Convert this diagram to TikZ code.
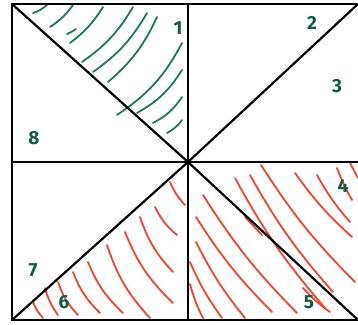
\documentclass[tikz,border=0pt]{standalone}
\usepackage{fontspec}
\setmainfont{Fira Sans}
\definecolor{hgreen}{HTML}{1C7A58}
\definecolor{lgreen}{HTML}{0F5E40}
\definecolor{hred}{HTML}{F0452F}
\begin{document}
\begin{tikzpicture}[x=1pt,y=-1pt,
  edge/.style={line width=2.2pt, black, line cap=round},
  ghatch/.style={draw=hgreen, line width=1.8pt, line cap=round},
  rhatch/.style={draw=hred, line width=1.8pt, line cap=round},
  num/.style={text=lgreen, font=\fontsize{19}{19}\selectfont\bfseries, inner sep=0pt}]
\fill[white] (0,0) rectangle (358,324);
\useasboundingbox (0,0) rectangle (358,324);

% green hatching, region 1
\draw[ghatch] (33,13) to[bend right=10] (47,5);
\draw[ghatch] (50,27) to[bend right=10] (73,5);
\draw[ghatch] (67,34) to[bend right=5] (76,29);
\draw[ghatch] (70,43) to[bend right=10] (103,7);
\draw[ghatch] (82,62) to[bend right=12] (133,7);
\draw[ghatch] (93,72) to[bend right=12] (147,13);
\draw[ghatch] (108,82) to[bend right=12] (157,17);
\draw[ghatch] (117,115) to[bend right=14] (182,43);
\draw[ghatch] (137,113) to[bend right=14] (182,70);
\draw[ghatch] (153,123) to[bend right=14] (182,97);
\draw[ghatch] (167,133) to[bend right=12] (182,120);

% red hatching, region 6
\draw[rhatch] (33,302) to[bend right=10] (43,318);
\draw[rhatch] (45,288) to[bend right=10] (58,315);
\draw[rhatch] (58,282) to[bend right=12] (78,315);
\draw[rhatch] (73,272) to[bend right=12] (100,313);
\draw[rhatch] (88,262) to[bend right=12] (123,313);
\draw[rhatch] (107,245) to[bend right=12] (150,318);
\draw[rhatch] (125,232) to[bend right=12] (173,303);
\draw[rhatch] (140,217) to[bend right=12] (173,272);
\draw[rhatch] (155,207) to[bend right=12] (177,235);
\draw[rhatch] (170,182) to[bend right=10] (185,205);

% red hatching, regions 4 and 5
\draw[rhatch] (190,284) to[bend right=6] (203,318);
\draw[rhatch] (190,262) to[bend right=6] (222,318);
\draw[rhatch] (196,242) to[bend right=6] (245,318);
\draw[rhatch] (196,217) to[bend right=6] (272,312);
\draw[rhatch] (203,195) to[bend right=6] (297,313);
\draw[rhatch] (235,178) to[bend right=6] (325,308);
\draw[rhatch] (250,175) to[bend right=6] (333,292);
\draw[rhatch] (261,165) to[bend right=6] (355,282);
\draw[rhatch] (295,173) to[bend right=6] (352,237);
\draw[rhatch] (317,175) to[bend right=6] (350,222);
\draw[rhatch] (337,168) to[bend right=4] (352,200);
\draw[rhatch] (350,163) to (358,178);
\draw[rhatch] (245,217) to (262,235);
\draw[rhatch] (303,288) to[bend right=6] (330,312);

% frame and dividing lines
\coordinate (tl) at (12,4);
\coordinate (tm) at (188,4);
\coordinate (tr) at (360,4);
\coordinate (ml) at (12,162);
\coordinate (c) at (188,162);
\coordinate (mr) at (360,162);
\coordinate (bl) at (12,320);
\coordinate (bm) at (188,320);
\coordinate (br) at (360,320);
\coordinate (dbr) at (358,320);
\coordinate (dtr) at (358,4);
\draw[edge] (tr) -- (tl) -- (bl) -- (br);
\draw[edge] (tm) -- (bm);
\draw[edge] (ml) -- (mr);
\draw[edge] (tl) -- (c) -- (dbr);
\draw[edge] (bl) -- (c) -- (dtr);

% labels
\node[num] (l1) at (178,28) {1};
\node[num] (l2) at (312,23) {2};
\node[num] (l3) at (337,86) {3};
\node[num] (l4) at (343,186) {4};
\node[num] (l5) at (309,302) {5};
\node[num] (l6) at (64,302) {6};
\node[num] (l7) at (33,270) {7};
\node[num] (l8) at (34,138) {8};
\end{tikzpicture}
\end{document}
